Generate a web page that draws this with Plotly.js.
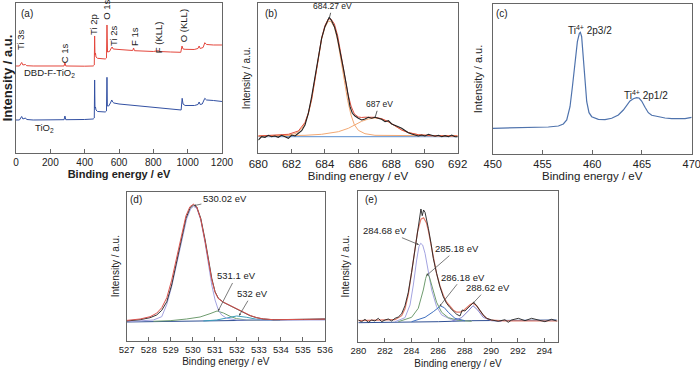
<!DOCTYPE html>
<html><head><meta charset="utf-8">
<script src="https://cdn.plot.ly/plotly-3.0.1.min.js"></script>
<style>html,body{margin:0;padding:0;background:#fff}#chart{width:700px;height:372px}</style>
</head><body><div id="chart"></div>
<script>
// ---------- (a) survey spectra ----------
const a_red_eV  = [0,20,33,40,55,62,100,200,280,285,290,400,450,456,458,460,463,466,475,500,520,527,530,533,545,552,560,566,575,600,680,685,690,800,830,835,900,960,967,973,985,1000,1038,1060,1067,1073,1090,1100,1110,1150,1200];
const a_red_I   = [87,87,90.5,88,88.5,87.3,87,87,87,90.5,87,86.8,87,88,117,98,100,96,94.7,94.2,94,95,128,101,101.5,104,106,104,103.7,103.5,102.5,105,102.3,101.5,102.3,101.5,101,100.7,107,104,103.7,103.7,103.5,104.5,107,104.5,105.5,110.3,108.5,108,108];
const a_blue_eV = [0,20,33,40,55,62,100,200,280,285,290,400,450,456,458,460,463,466,475,500,520,527,530,532,540,550,558,563,570,600,700,800,900,955,962,968,973,985,1000,1040,1060,1067,1073,1085,1100,1110,1150,1200];
const a_blue_I  = [33,33,36.5,34,35,33.5,33,33,33.3,37,33.3,33.5,34,35,73,45,46,43,41.5,41,41,42,75.7,47,47,50,53,51,50,49,47.5,46,44.5,43.5,43,54.7,49,47.5,47.5,47.5,48.5,51,48.5,49,54.7,53,52.5,51.5];
const a_tickvals = [0,200,400,600,800,1000,1200];
const a_peak_labels = ["Ti 3s","C 1s","Ti 2p","O 1s","Ti 2s","F 1s","F (KLL)","O (KLL)"];
const a_peak_eV     = [29,284,454,529,568,690,831,980];
const a_peak_I      = [113,99.5,129,143,116.5,116.5,115.5,127];

// ---------- (b) F 1s ----------
const b_data_eV = [680.00,680.20,680.40,680.60,680.80,681.00,681.20,681.40,681.61,681.81,682.01,682.21,682.41,682.61,682.81,683.01,683.21,683.41,683.61,683.81,684.01,684.17,684.27,684.41,684.58,684.72,684.92,685.12,685.32,685.52,685.66,685.82,686.02,686.22,686.42,686.62,686.82,687.02,687.22,687.42,687.63,687.83,688.03,688.23,688.43,688.63,688.83,689.03,689.23,689.43,689.63,689.83,690.03,690.24,690.44,690.64,690.84,691.04,691.24,691.44,691.64,691.84,692.00];
const b_data_I  = [13.0,16.3,15.7,17.7,16.3,17.0,15.7,17.7,16.3,14.7,18.0,17.0,19.7,22.3,28.0,39.7,56.3,76.3,96.3,114.7,126.3,131.3,135.7,132.3,126.3,118,103,84.7,66.3,46.3,39.7,37,34.7,33,34,35.7,34.7,35.7,34.7,33.7,31.3,32.3,29,28,26.3,24.7,22.3,20.3,19,18,17,18,17,18.7,17.7,16.7,17.7,16.3,17.3,16.3,18,16.3,16.3];
const b_fit1_eV = [680,681.81,682.21,682.41,682.61,682.81,683.01,683.21,683.41,683.61,683.81,684.01,684.21,684.37,684.58,684.78,684.98,685.18,685.38,685.58,685.78,686.02,686.42,687.02,692];
const b_fit1_I  = [17,18,19.3,21.3,24.3,29.7,39,53,73,94.7,113.7,125.7,131.7,131.7,125.7,112.3,92.3,70.3,52.3,38,28.3,22.7,19.3,17.7,17];
const b_fit2_eV = [680,682.81,683.81,684.82,685.42,685.82,686.22,686.62,687.02,687.43,687.83,688.23,688.63,689.03,689.63,690.44,692];
const b_fit2_I  = [17,17.7,18.7,21.3,24.7,28,31.7,34,35,34,31,27,23,20.3,18.3,17.3,17];
const b_env_eV  = [680,681.81,682.41,682.81,683.01,683.21,683.41,683.61,683.81,684.01,684.21,684.37,684.58,684.78,684.98,685.18,685.38,685.58,685.78,686.02,686.22,686.42,686.62,687.02,687.43,687.83,688.23,688.63,689.03,689.63,690.44,692];
const b_env_I   = [17,18.7,22,30.5,40,54,74,96,115,127.5,134,134,129,117,98,77,60,47,39,36,35.5,35.8,36,35.7,34.3,31.3,27.2,23,20.5,18.3,17.3,17];
const b_base_eV = [680,692];
const b_base_I  = [16.3,16.3];

// ---------- (c) Ti 2p ----------
const c_eV = [450,452.24,453.92,455.59,456.6,457.1,457.44,457.77,458.01,458.27,458.51,458.71,458.81,458.94,459.11,459.28,459.45,459.68,459.95,460.62,461.29,461.96,462.63,463.13,463.47,463.80,464.14,464.47,464.71,464.97,465.31,465.64,465.98,466.65,467.32,467.99,468.66,469.33,470];
const c_I  = [25.7,26,26.3,27,28,30,34,47.3,67.3,94,112.3,120.7,121.7,117.3,95.7,69,52.3,41.3,37.3,34.7,34.3,35.7,39,44,48.7,53,55.3,56.3,56,53,46.7,41.3,38.7,37,36,35.3,35,35.3,36.7];

// ---------- (d) O 1s ----------
const d_data_eV = [527,527.61,528.06,528.36,528.59,528.82,529.04,529.27,529.5,529.69,529.87,530.03,530.18,530.36,530.56,530.71,530.86,531.01,531.16,531.39,531.69,531.99,532.3,532.6,532.9,533.2,533.66,534.26,535.02,536];
const d_data_I  = [19.7,21,23,25.7,30.4,39,55.7,79,102.4,122.4,132.4,135.7,133.7,122.4,100.7,81.7,62.4,49,42.4,38.4,35,31.7,28.4,25,23,21.7,21,21,21.4,21.7];
const d_env_I   = [20.3,21.7,24,27.5,33,43,60.5,84,106.5,125,134,136.5,133.7,121.5,99,80,61,48.5,42,38.5,35.3,32,28.5,25.3,23,21.8,21,20.9,21.3,21.6];
const d_p1_eV = [527,528.21,528.59,528.82,529.04,529.27,529.5,529.72,529.9,530.03,530.18,530.36,530.56,530.71,530.86,531.01,531.16,531.31,531.54,531.99,536];
const d_p1_I  = [19,20.7,24,36.4,54,76.4,100.7,121.7,131.7,134.4,132.4,120.7,97.4,75.7,55.7,40.7,30.7,25.7,22.4,20.7,20.7];
const d_p2_eV = [528.21,528.97,529.72,530.33,530.78,531.1,531.39,531.69,531.99,532.45,533.05];
const d_p2_I  = [19.4,20,21.7,23.7,27,29.7,27.7,24.4,22,20.7,20.4];
const d_p3_eV = [530.48,531.08,531.54,531.99,532.45,532.9,533.35,533.96];
const d_p3_I  = [19.7,20.7,22.7,24.7,23.4,21.4,20.7,20.4];
const d_base_eV = [527,528.97,530.48,531.99,533.5,536];
const d_base_I  = [18.7,19.4,20,20.7,21,21.4];

// ---------- (e) C 1s ----------
const e_data_eV = [280,280.25,280.5,280.75,281,281.25,281.5,281.76,282.01,282.26,282.51,282.76,283.01,283.26,283.51,283.76,284.01,284.26,284.46,284.61,284.71,284.81,284.91,285.02,285.12,285.27,285.47,285.64,285.89,286.14,286.39,286.64,286.9,287.15,287.4,287.65,287.82,288.02,288.27,288.53,288.68,288.9,289.15,289.4,289.65,290.03,290.53,291.03,291.28,291.53,292.04,292.54,293.04,293.54,294.04,294.54,294.92];
const e_data_I  = [21.7,20,22.4,19.4,21.7,20.7,23.4,20,21.7,22.7,20.7,23.4,24.7,28,36,49.4,69.4,92.7,111.7,125,132.7,126,131.7,129.4,123.4,113.4,98.4,83.4,68.4,55,45,38.4,34,30.7,27.4,25.7,31.7,30.7,34,37.4,39.4,36,31.4,26.7,23.4,21.7,20.4,22,19.4,21.7,23.4,21,23.4,21.4,20,22.4,20.7];
const e_env_eV  = [280,282.76,283.26,283.51,283.76,284.01,284.26,284.46,284.71,284.91,285.12,285.27,285.47,285.64,285.89,286.14,286.39,286.64,286.9,287.15,287.4,287.65,287.9,288.15,288.4,288.62,288.9,289.15,289.4,289.65,290.03,291,295];
const e_env_I   = [21,22,26,33,47,68,92,110,122.5,124,119,111,97,84,68,56,46.5,39.5,35,31.5,29.5,29.5,31,34,37,38.5,36,31,26.5,23.5,21.5,20.8,20.7];
const e_p1_eV = [282.76,283.51,283.89,284.14,284.39,284.56,284.69,284.84,285.02,285.27,285.52,285.89,286.27,287.02,288.02];
const e_p1_I  = [20,24,36.7,56.7,81.7,95,98.4,96.7,88.4,70,51.7,35,26.7,22,20.7];
const e_p2_eV = [283.01,284.01,284.51,284.89,285.07,285.19,285.34,285.57,285.89,286.27,286.77,287.52,288.53];
const e_p2_I  = [20,24.4,33.4,51.7,63.4,68,65,53.4,39.4,29.4,24,21.4,20.4];
const e_p3_eV = [284.01,285.02,285.64,286.02,286.19,286.47,286.77,287.27,288.02];
const e_p3_I  = [20,24.4,30,34,35.7,34,29.4,23.4,21];
const e_p4_eV = [287.02,287.77,288.27,288.63,288.98,289.4,290.03,290.78];
const e_p4_I  = [20.4,24,30.7,36,31.7,24.4,21,20.4];
const e_base_eV = [280,283.51,286.02,288.53,291.03,294.92];
const e_base_I  = [19,19.4,20,21,21.4,21.7];

const FONT = 'Liberation Sans, Arial, sans-serif';
const FRAME = '#666';

function ln(x, y, xa, ya, color, w) {
  return {x: x, y: y, xaxis: xa, yaxis: ya, type: 'scatter', mode: 'lines',
          line: {color: color, width: w || 1}, hoverinfo: 'skip', showlegend: false};
}

const traces = [
  ln(a_red_eV, a_red_I, 'x', 'y', '#e4473d', 1),
  ln(a_blue_eV, a_blue_I, 'x', 'y', '#3351a3', 1),

  ln(b_base_eV, b_base_I, 'x2', 'y2', '#5b8fd0', 1),
  ln(b_fit1_eV, b_fit1_I, 'x2', 'y2', '#f2a873', 1),
  ln(b_fit2_eV, b_fit2_I, 'x2', 'y2', '#f2a873', 1),
  ln(b_env_eV, b_env_I, 'x2', 'y2', '#e0503e', 1),
  ln(b_data_eV, b_data_I, 'x2', 'y2', '#222', 1.1),

  ln(c_eV, c_I, 'x3', 'y3', '#4f73ad', 1.2),

  ln(d_base_eV, d_base_I, 'x4', 'y4', '#2f4f93', 1),
  ln(d_p2_eV, d_p2_I, 'x4', 'y4', '#6f9c6f', 1),
  ln(d_p3_eV, d_p3_I, 'x4', 'y4', '#3a9dbb', 1),
  ln(d_p1_eV, d_p1_I, 'x4', 'y4', '#a3a3e0', 1),
  ln(d_data_eV, d_data_I, 'x4', 'y4', '#333', 1),
  ln(d_data_eV, d_env_I, 'x4', 'y4', '#d9534f', 1),

  ln(e_base_eV, e_base_I, 'x5', 'y5', '#2f4f93', 1),
  ln(e_p1_eV, e_p1_I, 'x5', 'y5', '#a3a3e0', 1),
  ln(e_p2_eV, e_p2_I, 'x5', 'y5', '#6f9c6f', 1),
  ln(e_p3_eV, e_p3_I, 'x5', 'y5', '#4070c0', 1),
  ln(e_p4_eV, e_p4_I, 'x5', 'y5', '#8080cc', 1),
  ln(e_env_eV, e_env_I, 'x5', 'y5', '#e07a6a', 1.2),
  ln(e_data_eV, e_data_I, 'x5', 'y5', '#222', 0.9)
];

function xax(dom, range, dtick, tsize, anchor, title, tfont, standoff) {
  return {domain: dom, range: [range[0] - 0.0001 * (range[1] - range[0]), range[1] + 0.0001 * (range[1] - range[0])],
    anchor: anchor, dtick: dtick, tick0: range[0], ticklabeloverflow: 'allow',
    showline: true, mirror: true, linecolor: FRAME, linewidth: 1,
    ticks: 'inside', ticklen: 4, tickcolor: FRAME, showgrid: false, zeroline: false,
    tickfont: {family: FONT, size: tsize, color: '#222'},
    title: {text: title, font: tfont, standoff: standoff}};
}
function yax(dom, range, anchor, title, tfont, standoff) {
  return {domain: dom, range: range, anchor: anchor, showline: true, mirror: true,
    linecolor: FRAME, linewidth: 1, ticks: '', showticklabels: false,
    showgrid: false, zeroline: false,
    title: {text: title, font: tfont, standoff: standoff}};
}
const BE = 'Binding energy / eV';
const INT = 'Intensity / a.u.';
const f = (s, w) => ({family: FONT, size: s, color: '#222', weight: w || 'normal'});

const layout = {
  width: 700, height: 372, margin: {l: 0, r: 0, t: 0, b: 0},
  paper_bgcolor: '#fff', plot_bgcolor: '#fff', showlegend: false,
  font: {family: FONT, color: '#222'},
  xaxis:  xax([0.02286, 0.31714], [0, 1200], 200, 10, 'y', BE, f(11, 'bold'), 0),
  yaxis:  yax([0.58871, 0.99194], [0, 150], 'x', INT, f(13, 'bold'), 2),
  xaxis2: xax([0.36900, 0.65386], [680, 692], 2, 11.5, 'y2', BE, f(11.5), 0),
  yaxis2: yax([0.58871, 0.99194], [0, 150], 'x2', INT, f(10), 4),
  xaxis3: xax([0.70386, 0.98814], [450, 470], 5, 11, 'y3', BE, f(11.5), 0),
  yaxis3: yax([0.58602, 0.98925], [0, 150], 'x3', INT, f(11), 6),
  xaxis4: xax([0.18100, 0.46429], [527, 536], 1, 9.5, 'y4', BE, f(10), 3),
  yaxis4: yax([0.08414, 0.48468], [0, 149], 'x4', INT, f(10), 4),
  xaxis5: xax([0.51186, 0.79671], [280, 295], 2, 9.5, 'y5', BE, f(10), 4),
  yaxis5: yax([0.08145, 0.48656], [0, 150.7], 'x5', INT, f(10), 5),
  annotations: []
};

// peak labels in (a)
a_peak_labels.forEach((t, i) => layout.annotations.push({
  xref: 'x', yref: 'y', x: a_peak_eV[i], y: a_peak_I[i], text: t, showarrow: false,
  textangle: -90, font: f(9.5), xanchor: 'center', yanchor: 'middle'}));
layout.annotations.push({xref: 'x', yref: 'y', x: 197, y: 80, text: 'DBD-F-TiO<sub>2</sub>', showarrow: false, font: f(9.5)});
layout.annotations.push({xref: 'x', yref: 'y', x: 166, y: 25, text: 'TiO<sub>2</sub>', showarrow: false, font: f(9.5)});

// panel letters
[['(a)', 0.0386, 0.965], ['(b)', 0.3871, 0.964], ['(c)', 0.7171, 0.9624], ['(d)', 0.1943, 0.4624], ['(e)', 0.5293, 0.4624]]
  .forEach(p => layout.annotations.push({xref: 'paper', yref: 'paper', x: p[1], y: p[2], text: p[0],
    showarrow: false, font: f(10), xanchor: 'center', yanchor: 'middle'}));

// (b) peak markers
layout.annotations.push({xref: 'x2', yref: 'y2', x: 684.27, y: 134.7, text: '684.27 eV', showarrow: true,
  arrowhead: 0, arrowwidth: 0.8, arrowcolor: '#333', ax: 3, ay: -12, font: f(8.5)});
layout.annotations.push({xref: 'x2', yref: 'y2', x: 687.03, y: 35.7, text: '687 eV', showarrow: true,
  arrowhead: 0, arrowwidth: 0.8, arrowcolor: '#333', ax: 4, ay: -13, font: f(8.5)});

// (c) labels
layout.annotations.push({xref: 'x3', yref: 'y3', x: 459.78, y: 124, text: 'Ti<sup>4+</sup> 2p3/2', showarrow: false, font: f(10)});
layout.annotations.push({xref: 'x3', yref: 'y3', x: 465.44, y: 59, text: 'Ti<sup>4+</sup> 2p1/2', showarrow: false, font: f(10)});

// (d) labels with arrows
const arr = {showarrow: true, arrowhead: 2, arrowsize: 0.6, arrowwidth: 0.7, arrowcolor: '#444', font: f(9.5)};
layout.annotations.push(Object.assign({xref: 'x4', yref: 'y4', x: 530.05, y: 135, text: '530.02 eV', ax: 31, ay: -7}, arr));
layout.annotations.push(Object.assign({xref: 'x4', yref: 'y4', x: 531.15, y: 29.7, text: '531.1 eV', ax: 18, ay: -35}, arr));
layout.annotations.push(Object.assign({xref: 'x4', yref: 'y4', x: 532.1, y: 25, text: '532 eV', ax: 13, ay: -22}, arr));

// (e) labels with arrows
layout.annotations.push(Object.assign({xref: 'x5', yref: 'y5', x: 284.56, y: 97, text: '284.68 eV', ax: -34, ay: -14}, arr));
layout.annotations.push(Object.assign({xref: 'x5', yref: 'y5', x: 285.12, y: 66, text: '285.18 eV', ax: 31, ay: -27}, arr));
layout.annotations.push(Object.assign({xref: 'x5', yref: 'y5', x: 286.12, y: 35.5, text: '286.18 eV', ax: 23, ay: -29}, arr));
layout.annotations.push(Object.assign({xref: 'x5', yref: 'y5', x: 288.6, y: 38, text: '288.62 eV', ax: 15, ay: -16}, arr));

Plotly.newPlot('chart', traces, layout, {staticPlot: true, displayModeBar: false});
</script></body></html>
